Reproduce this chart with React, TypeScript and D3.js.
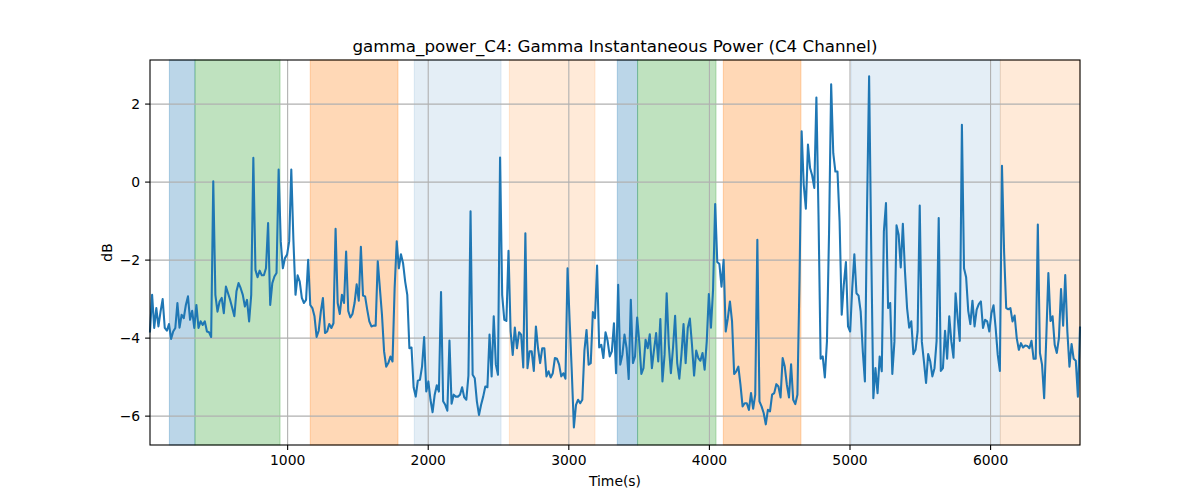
import * as d3 from 'd3';
import { useMemo } from 'react';

const title = 'gamma_power_C4: Gamma Instantaneous Power (C4 Channel)';
const xLabel = 'Time(s)';
const yLabel = 'dB';

// sample times: first sample and spacing (s)
const t0 = 21;
const dt = 15;

// gamma power values in dB, one per sample
const power = [
  -3.83, -2.89, -3.74, -3.23, -3.7, -3.32, -3.0, -3.74, -3.81, -3.64,
  -4.02, -3.83, -3.74, -3.1, -3.73, -3.4, -3.49, -3.15, -2.93, -3.53,
  -3.3, -3.74, -3.15, -3.74, -3.57, -3.66, -3.57, -3.83, -3.85, -3.97,
  0.02, -2.89, -3.32, -3.06, -2.97, -3.36, -2.68, -2.85, -3.02, -3.23,
  -3.44, -2.8, -2.59, -2.72, -2.89, -3.19, -3.02, -3.57, -2.89, 0.62,
  -2.25, -2.44, -2.27, -2.39, -2.39, -2.21, -1.05, -3.15, -2.59, -2.42,
  -2.33, 0.32, -1.52, -2.21, -1.95, -1.86, -1.52, 0.32, -1.48, -2.89,
  -2.39, -2.55, -2.97, -3.1, -3.02, -1.99,
  // 76
  -3.15, -3.23, -3.44, -3.97, -3.81, -3.32, -2.97, -3.87, -3.83, -3.64,
  -3.74, -3.62, -1.2, -3.1, -3.38, -2.89, -3.1, -1.78, -3.3, -3.47,
  -3.38, -3.1, -2.62, -3.04, -1.66, -2.91, -2.93, -3.27, -3.57, -3.7,
  -3.68, -3.68, -2.03, -2.72, -3.4, -4.34, -4.73, -4.64, -4.47, -4.6,
  -2.72, -1.52, -2.21, -1.85, -2.08, -2.55, -2.89, -4.26, -4.24, -5.26,
  -5.5, -5.09, -5.07, -4.73, -3.97, -5.37, -5.11, -5.58, -5.9, -5.45,
  -5.21, -5.37, -2.82, -5.62, -5.71, -5.86, -4.06, -5.68, -5.45, -5.5,
  -5.5, -5.45, -5.26, -5.52, -5.58, -4.96,
  // 152
  -0.75, -4.94, -5.03, -5.62, -5.97, -5.71, -5.5, -5.24, -5.26, -3.91,
  -4.98, -3.44, -4.68, -4.94, 0.63, -2.89, -3.53, -3.56, -1.76, -3.83,
  -4.43, -3.73, -4.26, -3.85, -3.91, -4.75, -1.31, -4.77, -4.34, -4.34,
  -4.84, -3.7, -4.26, -4.64, -4.26, -4.26, -4.98, -4.85, -5.01, -4.9,
  -4.51, -4.53, -4.68, -4.98, -4.9, -5.04, -2.21, -3.57, -4.85, -6.29,
  -5.71, -5.58, -5.67, -5.58, -4.32, -3.79, -4.68, -4.64, -3.33, -3.49,
  -2.14, -4.24, -4.17, -4.51, -3.85, -4.07, -4.47, -4.34, -3.62, -4.9,
  -2.63, -4.68, -4.43, -3.91, -4.26, -5.05,
  // 228
  -3.02, -4.64, -4.47, -3.47, -4.09, -4.92, -4.77, -4.04, -4.26, -3.9,
  -4.77, -4.3, -3.87, -4.6, -3.51, -5.11, -4.43, -2.85, -4.17, -4.9,
  -4.26, -3.43, -4.64, -5.04, -4.43, -3.64, -4.64, -3.74, -3.5, -4.17,
  -4.96, -4.32, -4.51, -4.58, -4.38, -4.81, -4.09, -2.87, -3.73, -2.76,
  -0.56, -2.05, -2.1, -2.68, -1.99, -3.83, -3.49, -3.06, -3.57, -4.92,
  -4.85, -4.73, -5.2, -5.75, -5.67, -5.67, -5.84, -5.41, -5.81, -5.45,
  -1.48, -5.62, -5.75, -5.92, -6.21, -5.84, -5.88, -5.45, -5.41, -5.18,
  -5.24, -5.52, -4.51, -4.73, -5.2,
  // 303
  -5.52, -4.67, -5.58, -5.69, -5.45, -2.5, 1.3, -0.07, -0.68, 0.96,
  0.36, 0.17, -0.15, 2.17, -0.84, -4.53, -4.47, -5.01, -4.09, -1.3,
  2.51, 0.74, 0.27, 0.27, -1.01, -3.4, -2.63, -2.05, -3.7, -3.83,
  -2.72, -1.85, -2.85, -2.91, -3.32, -4.34, -5.11, -0.75, 2.71, -1.7,
  -5.54, -4.77, -5.41, -4.47, -4.85, -1.26, -0.54, -3.23, -3.1, -4.92,
  -4.09, -1.11, -1.35, -2.19, -1.07, -2.29, -3.23, -3.73, -3.57, -4.41,
  -4.3, -3.83, -0.6, -4.09, -4.6, -5.15, -4.41, -4.6, -4.98, -4.77,
  -4.07, -0.92,
  // 375
  -4.84, -4.77, -3.81, -4.53, -3.44, -4.09, -4.5, -2.85, -3.49, -4.07,
  1.47, -2.21, -2.44, -3.3, -3.64, -3.04, -3.7, -3.27, -3.13, -3.06,
  -3.74, -3.53, -3.57, -3.83, -3.36, -3.16, -3.74, -4.43, -4.84, 0.42,
  -1.78, -3.23, -3.26, -3.23, -3.57, -3.42, -4.0, -4.3, -4.13, -4.24,
  -4.19, -4.2, -4.26, -4.07, -4.53, -4.53, -1.09, -4.38, -4.68, -5.54,
  -4.0, -2.33, -3.56, -3.44, -4.17, -4.38, -4.0, -2.74, -3.68, -2.38,
  -3.83, -4.73, -4.15, -4.53, -4.58, -5.5, -3.73,
];

// shaded stage intervals (s)
const spanStarts = [159, 341, 1161, 1901, 2577, 3345, 3489, 4099, 5007, 6069];
const spanEnds = [341, 946, 1785, 2518, 3186, 3489, 4047, 4651, 6069, 6636];
const spanKinds = ['blue', 'green', 'orange', 'paleBlue', 'paleOrange', 'blue', 'green', 'orange', 'paleBlue', 'paleOrange'];

const yTicks = [-6, -4, -2, 0, 2];
const xTicks = [1000, 2000, 3000, 4000, 5000, 6000];

const spanStyle: Record<string, { color: string; alpha: number }> = {
  blue: { color: '#1f77b4', alpha: 0.3 },
  green: { color: '#2ca02c', alpha: 0.3 },
  orange: { color: '#ff7f0e', alpha: 0.3 },
  paleBlue: { color: '#1f77b4', alpha: 0.12 },
  paleOrange: { color: '#ff7f0e', alpha: 0.16 },
};

const W = 1200;
const H = 500;
const margin = { left: 150, right: 120, top: 60, bottom: 55 };
const font = 'DejaVu Sans, sans-serif';

const fmt = (v: number) => (v < 0 ? '\u2212' + Math.abs(v) : String(v));

export default function App() {
  const innerW = W - margin.left - margin.right;
  const innerH = H - margin.top - margin.bottom;

  const times = power.map((_, i) => t0 + i * dt);

  const xScale = useMemo(
    () => d3.scaleLinear().domain([times[0], times[times.length - 1]]).range([0, innerW]),
    []
  );
  const yScale = useMemo(() => d3.scaleLinear().domain([-6.74, 3.13]).range([innerH, 0]), []);

  const linePath = useMemo(() => {
    const gen = d3
      .line<number>()
      .x((_, i) => xScale(times[i]))
      .y((d) => yScale(d));
    return gen(power);
  }, []);

  return (
    <div style={{ position: 'absolute', left: 0, top: 0 }}>
      <svg width={W} height={H} style={{ display: 'block', background: '#fff' }}>
        <g transform={`translate(${margin.left},${margin.top})`}>
          {spanStarts.map((s, i) => {
            const st = spanStyle[spanKinds[i]];
            const x0 = xScale(s);
            const x1 = Math.min(xScale(spanEnds[i]), innerW);
            return (
              <rect
                key={i}
                x={x0}
                y={0}
                width={x1 - x0}
                height={innerH}
                fill={st.color}
                fillOpacity={st.alpha}
                stroke={st.color}
                strokeOpacity={st.alpha}
                strokeWidth={1}
              />
            );
          })}
          {xTicks.map((t) => (
            <line key={'gx' + t} x1={xScale(t)} x2={xScale(t)} y1={0} y2={innerH} stroke='#b0b0b0' strokeWidth={1.1} />
          ))}
          {yTicks.map((t) => (
            <line key={'gy' + t} x1={0} x2={innerW} y1={yScale(t)} y2={yScale(t)} stroke='#b0b0b0' strokeWidth={1.1} />
          ))}
          <path
            d={linePath ?? 'M0 0'}
            fill='none'
            stroke='#1f77b4'
            strokeWidth={2.08}
            strokeLinejoin='round'
            strokeLinecap='square'
          />
          <rect x={0} y={0} width={innerW} height={innerH} fill='none' stroke='#000' strokeWidth={1.1} />
          {xTicks.map((t) => (
            <g key={'tx' + t} transform={`translate(${xScale(t)},${innerH})`}>
              <line y1={0} y2={4.9} stroke='#000' strokeWidth={1.1} />
              <text y={9.8} dy='0.76em' textAnchor='middle' fontSize={13.9} fontFamily={font} fill='#000'>
                {t}
              </text>
            </g>
          ))}
          {yTicks.map((t) => (
            <g key={'ty' + t} transform={`translate(0,${yScale(t)})`}>
              <line x1={0} x2={-4.9} stroke='#000' strokeWidth={1.1} />
              <text x={-9.8} dy='0.36em' textAnchor='end' fontSize={13.9} fontFamily={font} fill='#000'>
                {fmt(t)}
              </text>
            </g>
          ))}
          <text x={innerW / 2} y={-8.3} textAnchor='middle' fontSize={16.7} fontFamily={font} fill='#000'>
            {title}
          </text>
          <text x={innerW / 2} y={innerH + 41} textAnchor='middle' fontSize={13.9} fontFamily={font} fill='#000'>
            {xLabel}
          </text>
          <text
            transform={`translate(${-38},${innerH / 2}) rotate(-90)`}
            textAnchor='middle'
            fontSize={13.9}
            fontFamily={font}
            fill='#000'
          >
            {yLabel}
          </text>
        </g>
      </svg>
    </div>
  );
}
